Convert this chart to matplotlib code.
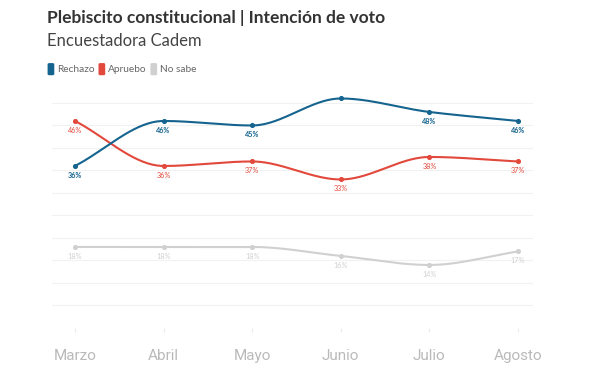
import matplotlib
matplotlib.use("Agg")
import matplotlib.pyplot as plt
from matplotlib.patches import FancyBboxPatch
import numpy as np

months = ["Marzo", "Abril", "Mayo", "Junio", "Julio", "Agosto"]
rechazo = [36, 46, 45, 51, 48, 46]
apruebo = [46, 36, 37, 33, 38, 37]
no_sabe = [18, 18, 18, 16, 14, 17]

series = [
    ("Rechazo", rechazo, "#15648f", "bold"),
    ("Apruebo", apruebo, "#e2483b", "normal"),
    ("No sabe", no_sabe, "#d0d0d0", "normal"),
]


def monotone(x, y, n=40):
    # monotone cubic (like d3 curveMonotoneX)
    x = np.asarray(x, float)
    y = np.asarray(y, float)
    h = np.diff(x)
    d = np.diff(y) / h
    m = np.zeros_like(y)
    m[0], m[-1] = d[0], d[-1]
    for i in range(1, len(y) - 1):
        if d[i - 1] * d[i] <= 0:
            m[i] = 0
        else:
            m[i] = 3 * (h[i - 1] + h[i]) / ((2 * h[i] + h[i - 1]) / d[i - 1] + (h[i] + 2 * h[i - 1]) / d[i])
    xs, ys = [], []
    for i in range(len(x) - 1):
        t = np.linspace(0, 1, n)
        h00 = 2 * t**3 - 3 * t**2 + 1
        h10 = t**3 - 2 * t**2 + t
        h01 = -2 * t**3 + 3 * t**2
        h11 = t**3 - t**2
        xs.append(x[i] + t * h[i])
        ys.append(h00 * y[i] + h10 * h[i] * m[i] + h01 * y[i + 1] + h11 * h[i] * m[i + 1])
    return np.concatenate(xs), np.concatenate(ys)


fig = plt.figure(figsize=(6.1, 3.8), dpi=100)
ax = fig.add_axes([0.085, 0.137, 0.789, 0.592])
x = np.arange(len(months))

for name, vals, color, weight in series[::-1]:
    sx, sy = monotone(x, vals)
    ax.plot(sx, sy, color=color, lw=1.5, clip_on=False, zorder=3)
    ax.scatter(x, vals, s=7, color=color, zorder=4, clip_on=False)
    for xi, v in zip(x, vals):
        ax.annotate(f"{v}%", (xi, v), xytext=(0, -4), textcoords="offset points",
                    ha="center", va="top", fontsize=5.2, color=color,
                    fontweight=weight, family="Lato")

ax.set_xlim(-0.26, 5.17)
ax.set_ylim(0, 50)
ax.set_yticks(np.arange(0, 51, 5))
ax.yaxis.grid(True, color="#f1f1f1", lw=0.8)
ax.tick_params(axis="y", length=0, labelleft=False)
ax.set_xticks(x)
ax.set_xticklabels(months, fontsize=11, color="#bababa", family="Roboto")
ax.tick_params(axis="x", length=3, color="#ececec", pad=12)
for s in ax.spines.values():
    s.set_visible(False)

fig.text(0.077, 0.952, "Plebiscito constitucional | Intención de voto", fontsize=12.5,
         fontweight="bold", color="#333333", family="Lato", va="center")
fig.text(0.077, 0.893, "Encuestadora Cadem", fontsize=12, color="#444444",
         family="Lato", va="center")

lx = 0.078
ly = 0.817
for name, vals, color, weight in series:
    fig.patches.append(FancyBboxPatch((lx, ly - 0.015), 0.011, 0.032, boxstyle="round,pad=0,rounding_size=0.003",
                                      transform=fig.transFigure, facecolor=color, edgecolor="none"))
    t = fig.text(lx + 0.015, ly, name, fontsize=7.3, color="#666666", family="Lato", va="center")
    fig.canvas.draw()
    bb = t.get_window_extent().transformed(fig.transFigure.inverted())
    lx = bb.x1 + 0.007

fig.savefig("out.png", dpi=100, facecolor="white")
